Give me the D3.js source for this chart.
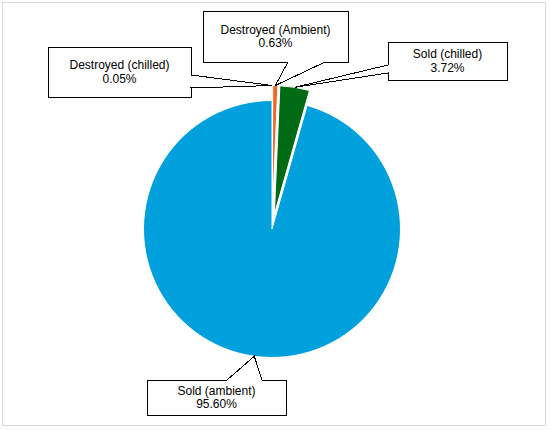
<!DOCTYPE html>
<html>
<head>
<meta charset="utf-8">
<script src="https://cdn.jsdelivr.net/npm/d3@7"></script>
<style>
  html, body { margin: 0; padding: 0; background: #fff; }
  svg { display: block; }
  text { font-family: "Liberation Sans", Arial, sans-serif; font-size: 12px; fill: #000; }
</style>
</head>
<body>
<svg id="chart" width="550" height="430"></svg>
<script>
// ---- data ----
const categories = ["Destroyed (chilled)", "Destroyed (Ambient)", "Sold (chilled)", "Sold (ambient)"];
const values = [0.05, 0.63, 3.72, 95.60];
const colors = ["#F26522", "#F26522", "#006A14", "#00A0DC"];

// ---- layout ----
const W = 550, H = 430;
const cx = 272, cy = 229, R = 128.5;
const explodeDist = [15, 15, 15, 0];

// callout boxes: [x0, y0, x1, y1], pointer side and base coordinates
const callouts = [
  { box: [48, 47, 191, 97], side: "right", base: [75, 88] },
  { box: [203, 11, 348, 62], side: "bottom", base: [288, 325] },
  { box: [388, 42, 507, 80], side: "left", base: [65, 73] },
  { box: [147, 380, 286, 415], side: "top", base: [227, 262] }
];

const svg = d3.select("#chart");

svg.append("rect")
  .attr("x", 2.5).attr("y", 2.5)
  .attr("width", 543).attr("height", 423)
  .attr("fill", "#fff")
  .attr("stroke", "#D9D9D9").attr("stroke-width", 1);

const pie = d3.pie().sort(null).value(d => d.v);
const data = categories.map((c, i) => ({ c, v: values[i], i }));
const arcs = pie(data);
const arc = d3.arc().innerRadius(0).outerRadius(R);

function offset(a, dist) {
  const m = (a.startAngle + a.endAngle) / 2;
  return [Math.sin(m) * dist, -Math.cos(m) * dist];
}

const g = svg.append("g").attr("transform", `translate(${cx},${cy})`);
g.selectAll("path.slice")
  .data(arcs)
  .enter().append("path")
  .attr("class", "slice")
  .attr("d", arc)
  .attr("transform", d => {
    const o = offset(d, explodeDist[d.index]);
    return `translate(${o[0]},${o[1]})`;
  })
  .attr("fill", d => colors[d.index])
  .attr("stroke", "#fff")
  .attr("stroke-width", 1);

// tip points on each slice's outer arc at its mid angle
function tipPoint(a) {
  const m = (a.startAngle + a.endAngle) / 2;
  const o = offset(a, explodeDist[a.index]);
  return [cx + o[0] + Math.sin(m) * R, cy + o[1] - Math.cos(m) * R];
}

function calloutPath(co, tip) {
  const [x0, y0, x1, y1] = co.box;
  const b = co.base;
  const pts = [[x0, y0]];
  if (co.side === "top") { pts.push([b[0], y0], tip, [b[1], y0]); }
  pts.push([x1, y0]);
  if (co.side === "right") { pts.push([x1, b[0]], tip, [x1, b[1]]); }
  pts.push([x1, y1]);
  if (co.side === "bottom") { pts.push([b[1], y1], tip, [b[0], y1]); }
  pts.push([x0, y1]);
  if (co.side === "left") { pts.push([x0, b[1]], tip, [x0, b[0]]); }
  return "M" + pts.map(p => p.join(",")).join("L") + "Z";
}

const fmt = v => v.toFixed(2) + "%";

arcs.forEach((a, i) => {
  const co = callouts[i];
  const tip = tipPoint(a);
  svg.append("path")
    .attr("d", calloutPath(co, tip))
    .attr("fill", "#fff")
    .attr("stroke", "#000")
    .attr("stroke-width", 1)
    .attr("shape-rendering", "crispEdges");
  const tx = (co.box[0] + co.box[2]) / 2;
  const ty = (co.box[1] + co.box[3]) / 2;
  const t = svg.append("text")
    .attr("text-anchor", "middle")
    .attr("x", tx).attr("y", ty);
  t.append("tspan").attr("x", tx).attr("dy", "-0.25em").text(categories[i]);
  t.append("tspan").attr("x", tx).attr("dy", "1.15em").text(fmt(values[i]));
});
</script>
</body>
</html>
